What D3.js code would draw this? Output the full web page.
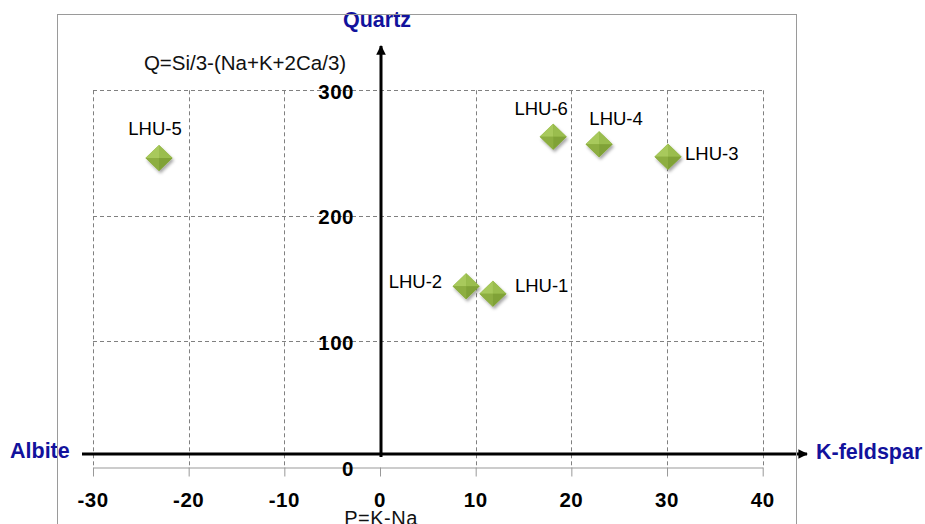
<!DOCTYPE html>
<html><head><meta charset="utf-8">
<script src="https://cdn.jsdelivr.net/npm/d3@7"></script>
<style>
html,body{margin:0;padding:0;background:#fff;}
svg{display:block;font-family:"Liberation Sans",Arial,sans-serif;}
</style></head>
<body>
<svg id="chart" width="925" height="524"></svg>
<script>
// ---- data ----
const samples = ["LHU-1","LHU-2","LHU-3","LHU-4","LHU-5","LHU-6"];
const pValues = [11.8, 9.0, 30.1, 22.9, -23.1, 18.1];   // P = K - Na
const qValues = [138, 144, 247, 257, 246, 263];          // Q = Si/3-(Na+K+2Ca/3)
const xTicks = [-30,-20,-10,0,10,20,30,40];
const yTicks = [0,100,200,300];
const xTitle = "P=K-Na";
const yTitle = "Q=Si/3-(Na+K+2Ca/3)";
const endLabels = {top:"Quartz", left:"Albite", right:"K-feldspar"};

// ---- drawing ----
const svg = d3.select("#chart");
const x = d3.scaleLinear().domain([-30,40]).range([93,762.7]);
const y = d3.scaleLinear().domain([0,300]).range([467,90.3]);
const blue = "#12129c";

const defs = svg.append("defs");
const f = defs.append("filter").attr("id","sh").attr("x","-50%").attr("y","-50%").attr("width","200%").attr("height","200%");
f.append("feDropShadow").attr("dx",1.5).attr("dy",2.5).attr("stdDeviation",1.6).attr("flood-color","#000").attr("flood-opacity",0.35);
defs.append("marker").attr("id","arr").attr("viewBox","0 0 10 10").attr("refX",9).attr("refY",5)
  .attr("markerWidth",4).attr("markerHeight",3.2).attr("markerUnits","strokeWidth").attr("orient","auto")
  .append("path").attr("d","M0,0 L10,5 L0,10 Z").attr("fill","#000");

// gridlines
const grid = svg.append("g").attr("stroke","#808080").attr("stroke-width",1).attr("stroke-dasharray","4,3").attr("fill","none");
grid.selectAll("line.h").data(yTicks.filter(d=>d>0)).join("line").attr("class","h")
  .attr("x1",x(-30)).attr("x2",x(40)).attr("y1",d=>Math.round(y(d))+0.5).attr("y2",d=>Math.round(y(d))+0.5);
grid.selectAll("line.v").data(xTicks.filter(d=>d!==0)).join("line").attr("class","v")
  .attr("x1",d=>Math.round(x(d))+0.5).attr("x2",d=>Math.round(x(d))+0.5).attr("y1",y(300)).attr("y2",y(0));

// bottom axis (grey line with ticks)
const xAxis = svg.append("g").attr("transform",`translate(0,${Math.round(y(0))+0.5})`)
  .call(d3.axisBottom(x).tickValues(xTicks).tickSize(9).tickSizeOuter(0).tickFormat(""));
xAxis.select(".domain").attr("stroke","#999");
xAxis.selectAll(".tick line").attr("stroke","#999");

// x tick labels
svg.append("g").selectAll("text").data(xTicks).join("text")
  .attr("x",d=>x(d)).attr("y",499).attr("text-anchor","middle").attr("dominant-baseline","central")
  .attr("font-size",20.5).attr("font-weight","bold").attr("letter-spacing",0.5).attr("fill","#000")
  .text(d=>d);

// y tick labels
svg.append("g").selectAll("text").data(yTicks).join("text")
  .attr("x",354).attr("y",d=>y(d)+1).attr("text-anchor","end").attr("dominant-baseline","central")
  .attr("font-size",20.5).attr("font-weight","bold").attr("letter-spacing",0.5).attr("fill","#000")
  .text(d=>d);

// thick arrows
svg.append("line").attr("x1",82).attr("x2",807).attr("y1",454).attr("y2",454)
  .attr("stroke","#000").attr("stroke-width",3).attr("marker-end","url(#arr)");
svg.append("line").attr("x1",381).attr("x2",381).attr("y1",457).attr("y2",46)
  .attr("stroke","#000").attr("stroke-width",3).attr("marker-end","url(#arr)");

// titles
svg.append("text").attr("x",245).attr("y",62).attr("text-anchor","middle").attr("dominant-baseline","central")
  .attr("font-size",20.5).attr("fill","#111").text(yTitle);
svg.append("text").attr("x",381).attr("y",518).attr("text-anchor","middle").attr("dominant-baseline","central")
  .attr("font-size",20).attr("letter-spacing",0.5).attr("fill","#111").text(xTitle);
svg.append("text").attr("x",377).attr("y",20).attr("text-anchor","middle").attr("dominant-baseline","central")
  .attr("font-size",21.5).attr("font-weight","bold").attr("fill",blue).text(endLabels.top);
svg.append("text").attr("x",10).attr("y",451).attr("text-anchor","start").attr("dominant-baseline","central")
  .attr("font-size",21.5).attr("font-weight","bold").attr("fill",blue).text(endLabels.left);
svg.append("text").attr("x",816).attr("y",452).attr("text-anchor","start").attr("dominant-baseline","central")
  .attr("font-size",21.5).attr("font-weight","bold").attr("fill",blue).text(endLabels.right);

// points (pyramid diamonds)
const pts = samples.map((s,i)=>({name:s,p:pValues[i],q:qValues[i]}));
const hw = 13.5, hh = 13;
const g = svg.append("g").selectAll("g").data(pts).join("g")
  .attr("transform",d=>`translate(${x(d.p)},${y(d.q)})`);
g.append("path").attr("d",`M0,${-hh} L${hw},0 L0,${hh} L${-hw},0 Z`).attr("fill","#8cb043").attr("filter","url(#sh)");
const facets = [
  {d:`M0,0 L0,${-hh} L${-hw},0 Z`, c:"#a8c95c"},
  {d:`M0,0 L0,${-hh} L${hw},0 Z`, c:"#9abd4e"},
  {d:`M0,0 L${hw},0 L0,${hh} Z`, c:"#80a237"},
  {d:`M0,0 L0,${hh} L${-hw},0 Z`, c:"#8dae41"}
];
facets.forEach(fc=>g.append("path").attr("d",fc.d).attr("fill",fc.c));

// point labels
const place = {
  "LHU-1":{dx:22,dy:-8,a:"start"},
  "LHU-2":{dx:-24,dy:-5,a:"end"},
  "LHU-3":{dx:17,dy:-3,a:"start"},
  "LHU-4":{dx:17,dy:-26,a:"middle"},
  "LHU-5":{dx:-4,dy:-30,a:"middle"},
  "LHU-6":{dx:-12,dy:-28,a:"middle"}
};
svg.append("g").selectAll("text").data(pts).join("text")
  .attr("x",d=>x(d.p)+place[d.name].dx).attr("y",d=>y(d.q)+place[d.name].dy)
  .attr("text-anchor",d=>place[d.name].a).attr("dominant-baseline","central")
  .attr("font-size",18.5).attr("fill","#000").text(d=>d.name);

// outer border
svg.append("rect").attr("x",57.5).attr("y",14.5).attr("width",739).attr("height",530)
  .attr("fill","none").attr("stroke","#9a9a9a").attr("stroke-width",1);
</script>
</body></html>
